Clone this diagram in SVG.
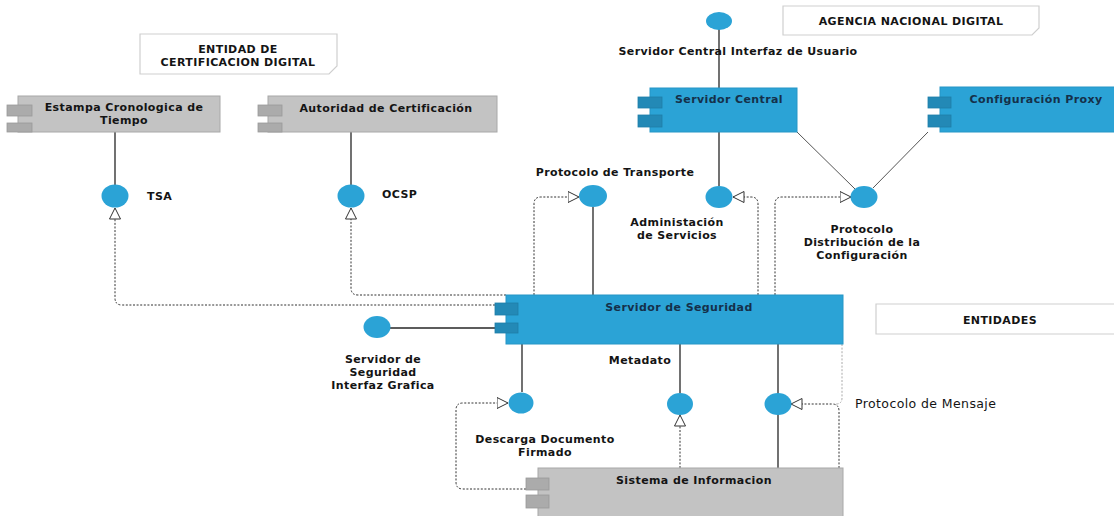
<svg xmlns="http://www.w3.org/2000/svg" width="1114" height="516" viewBox="0 0 1114 516">
<style>
.t{font-family:"DejaVu Sans","Open Sans",sans-serif;font-weight:700;font-size:11px;letter-spacing:0.4px;fill:#141414}
.tb{fill:#15304a}
.c{text-anchor:middle}
.n{font-weight:400;font-size:12.5px;letter-spacing:0.4px}
.blue{fill:#2ba3d6;stroke:#2796c6;stroke-width:1}
.bport{fill:#2389b6;stroke:#1f7ea8;stroke-width:0.8}
.gray{fill:#c3c3c3;stroke:#a8a8a8;stroke-width:1}
.gport{fill:#ababab;stroke:#9a9a9a;stroke-width:0.8}
.iface{fill:#2ba3d6}
.note{fill:#fff;stroke:#cfcfcf;stroke-width:1.2}
.solid{stroke:#262626;stroke-width:1.3;fill:none}
.thin{stroke:#555;stroke-width:1;fill:none}
.dot{stroke:#333;stroke-width:1;stroke-dasharray:2 1.6;fill:none}
.faint{stroke:#aaa;stroke-width:1;stroke-dasharray:2 1.6;fill:none}
</style>
<defs>
<marker id="tri" viewBox="0 0 12 12" refX="11.5" refY="6" markerWidth="12" markerHeight="12" markerUnits="userSpaceOnUse" orient="auto">
<path d="M0.5,0.5 L11.5,6 L0.5,11.5 Z" fill="#fff" stroke="#333" stroke-width="1"/>
</marker>
</defs>

<g id="notes">
<g id="note-entidad-cert">
<path class="note" d="M140 34 H337 V66 L329 74 H140 Z"/>
<text class="t c" x="238" y="53">ENTIDAD DE</text>
<text class="t c" x="238" y="66">CERTIFICACION DIGITAL</text>
</g>
<g id="note-agencia">
<path class="note" d="M783 6 H1039 V28 L1032 35 H783 Z"/>
<text class="t c" x="911" y="25">AGENCIA NACIONAL DIGITAL</text>
</g>
<g id="note-entidades">
<path class="note" d="M876 304 H1118 V334 H876 Z"/>
<text class="t c" x="1000" y="324">ENTIDADES</text>
</g>
</g>

<g id="connectors">
<line class="solid" x1="115" y1="132" x2="115" y2="185"/>
<line class="solid" x1="351" y1="132" x2="351" y2="185"/>
<line class="solid" x1="719" y1="29" x2="719" y2="88"/>
<line class="solid" x1="719" y1="132" x2="719" y2="186"/>
<line class="thin" x1="797" y1="132" x2="855" y2="189"/>
<line class="thin" x1="928" y1="132" x2="873" y2="188"/>
<line class="solid" x1="593" y1="207" x2="593" y2="295"/>
<line class="solid" x1="390" y1="328" x2="495" y2="328"/>
<line class="solid" x1="522" y1="344" x2="522" y2="392"/>
<line class="solid" x1="680" y1="344" x2="680" y2="393"/>
<line class="solid" x1="778" y1="344" x2="778" y2="468"/>

<path class="dot" marker-end="url(#tri)" d="M495 305 H122 Q115 305 115 298 V208"/>
<path class="dot" marker-end="url(#tri)" d="M506 295 H358 Q351 295 351 288 V208"/>
<path class="dot" marker-end="url(#tri)" d="M534 295 V204 Q534 197 541 197 H579"/>
<path class="dot" marker-end="url(#tri)" d="M758 295 V204 Q758 197 751 197 H733"/>
<path class="dot" marker-end="url(#tri)" d="M775 295 V204 Q775 197 782 197 H851"/>
<path class="dot" marker-end="url(#tri)" d="M526 489 H463 Q456 489 456 482 V410 Q456 403 463 403 H508"/>
<path class="dot" marker-end="url(#tri)" d="M680 468 V415"/>
<path class="dot" marker-end="url(#tri)" d="M839 468 V411 Q839 404 832 404 H791"/>
<path class="faint" d="M842 344 V398 Q842 404 836 404"/>
</g>

<g id="estampa">
<rect class="gray" x="18" y="96" width="202" height="36"/>
<rect class="gport" x="7" y="105" width="25" height="11"/>
<rect class="gport" x="7" y="123" width="25" height="9"/>
<text class="t c" x="124" y="111">Estampa Cronologica de</text>
<text class="t c" x="124" y="124">Tiempo</text>
</g>

<g id="autoridad">
<rect class="gray" x="268" y="96" width="229" height="36"/>
<rect class="gport" x="258" y="105" width="24" height="11"/>
<rect class="gport" x="258" y="123" width="24" height="9"/>
<text class="t c" x="386" y="112">Autoridad de Certificación</text>
</g>

<g id="servidor-central">
<rect class="blue" x="650" y="88" width="147" height="44"/>
<rect class="bport" x="638" y="97" width="24" height="11"/>
<rect class="bport" x="638" y="115" width="24" height="12"/>
<text class="t tb c" x="729" y="103">Servidor Central</text>
</g>

<g id="configuracion-proxy">
<rect class="blue" x="940" y="87" width="180" height="45"/>
<rect class="bport" x="928" y="97" width="23" height="11"/>
<rect class="bport" x="928" y="115" width="23" height="12"/>
<text class="t tb c" x="1036" y="103">Configuración Proxy</text>
</g>

<g id="servidor-seguridad">
<rect class="blue" x="506" y="295" width="337" height="49"/>
<rect class="bport" x="495" y="303" width="23" height="12"/>
<rect class="bport" x="495" y="323" width="23" height="10"/>
<text class="t tb c" x="679" y="311">Servidor de Seguridad</text>
</g>

<g id="sistema-informacion">
<rect class="gray" x="538" y="468" width="305" height="52"/>
<rect class="gport" x="526" y="478" width="23" height="12"/>
<rect class="gport" x="526" y="495" width="23" height="13"/>
<text class="t c" x="694" y="484">Sistema de Informacion</text>
</g>

<g id="iface-tsa">
<ellipse class="iface" cx="115" cy="196" rx="13.5" ry="11.5"/>
<text class="t" x="147" y="200">TSA</text>
</g>
<g id="iface-ocsp">
<ellipse class="iface" cx="351" cy="196" rx="13.5" ry="11.5"/>
<text class="t" x="382" y="198">OCSP</text>
</g>
<g id="iface-sc-ui">
<ellipse class="iface" cx="719" cy="21" rx="13" ry="9"/>
<text class="t c" x="738" y="55">Servidor Central Interfaz de Usuario</text>
</g>
<g id="iface-transporte">
<ellipse class="iface" cx="593" cy="196" rx="14" ry="11"/>
<text class="t c" x="615" y="176">Protocolo de Transporte</text>
</g>
<g id="iface-admin">
<ellipse class="iface" cx="719" cy="197" rx="13.5" ry="11"/>
<text class="t c" x="677" y="226">Administación</text>
<text class="t c" x="677" y="239">de Servicios</text>
</g>
<g id="iface-distribucion">
<ellipse class="iface" cx="864" cy="197" rx="13.5" ry="11"/>
<text class="t c" x="862" y="233">Protocolo</text>
<text class="t c" x="862" y="246">Distribución de la</text>
<text class="t c" x="862" y="259">Configuración</text>
</g>
<g id="iface-ss-gui">
<ellipse class="iface" cx="377" cy="327" rx="13.5" ry="11"/>
<text class="t c" x="383" y="363">Servidor de</text>
<text class="t c" x="383" y="376">Seguridad</text>
<text class="t c" x="383" y="389">Interfaz Grafica</text>
</g>
<g id="iface-descarga">
<ellipse class="iface" cx="521" cy="403" rx="12.5" ry="10.5"/>
<text class="t c" x="545" y="443">Descarga Documento</text>
<text class="t c" x="545" y="456">Firmado</text>
</g>
<g id="iface-metadato">
<ellipse class="iface" cx="680" cy="404" rx="13" ry="11"/>
<text class="t c" x="640" y="364">Metadato</text>
</g>
<g id="iface-mensaje">
<ellipse class="iface" cx="778" cy="404" rx="13.5" ry="11"/>
<text class="t n" x="855" y="408">Protocolo de Mensaje</text>
</g>
</svg>
